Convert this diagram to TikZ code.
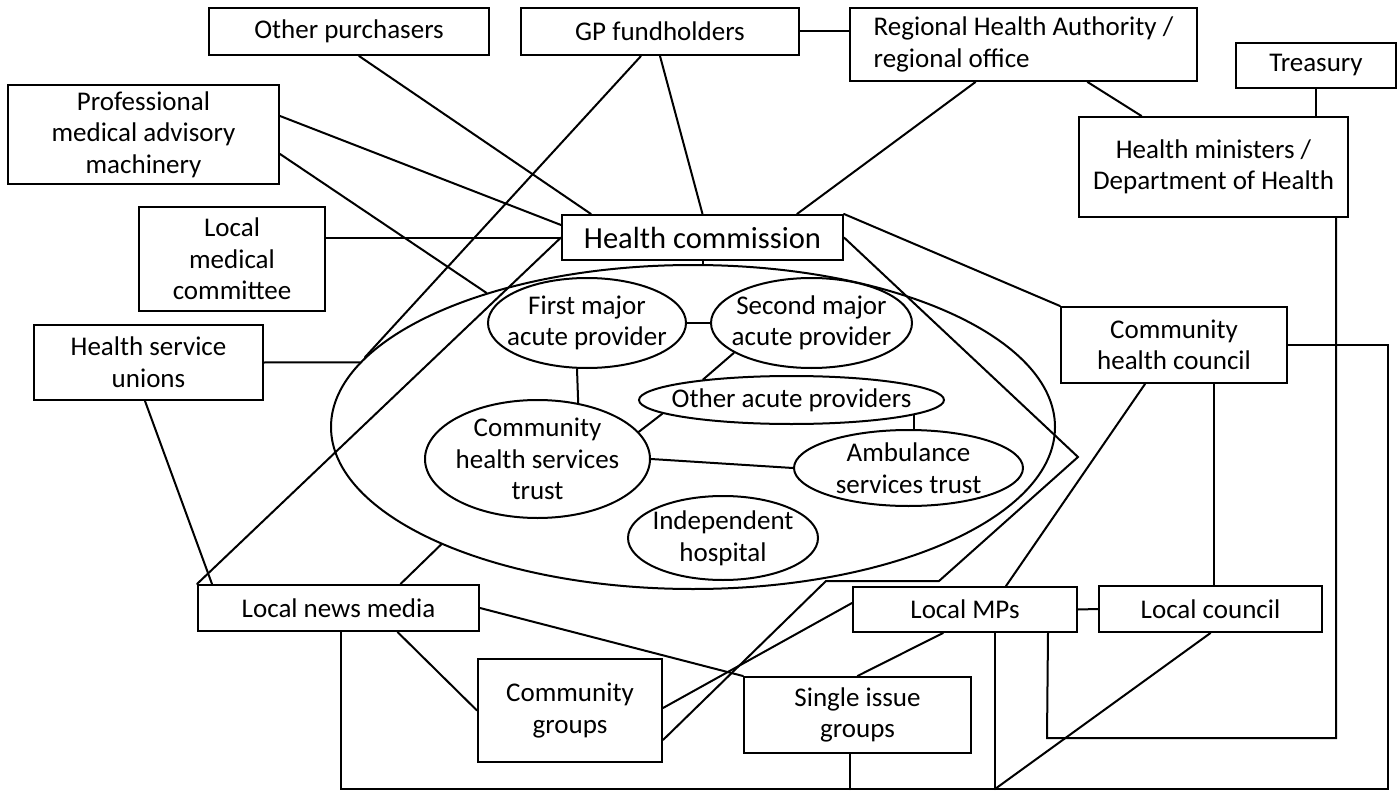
\documentclass[tikz,border=0pt]{standalone}
\usepackage{fontspec}
\setmainfont{Carlito}
\usetikzlibrary{shapes.geometric}

\begin{document}
\begin{tikzpicture}[x=0.5pt,y=-0.5pt,line width=1pt,line cap=round,
  font=\fontsize{13.5}{15.8}\selectfont,
  box/.style={draw,rectangle,align=center,inner sep=0pt},
  oval/.style={draw,ellipse,inner sep=0pt},
  inside/.style={align=center,inner sep=0pt}]
\useasboundingbox (0,0) rectangle (1398,797);
\node[box,minimum width=140pt,minimum height=23.5pt] (op) at (349,31.5) {Other purchasers};
\node[box,minimum width=139pt,minimum height=23.5pt] (gp) at (660,31.5) {GP fundholders};
\node[box,align=left,minimum width=173.5pt,minimum height=36.5pt] (rha) at (1023.5,44.5) {Regional Health Authority /\\regional office};
\node[box,minimum width=80pt,minimum height=22.5pt] (tr) at (1316,65.5) {Treasury};
\node[box,minimum width=134.5pt,minimum height=50pt] (hm) at (1213.5,167) {Health ministers /\\Department of Health};
\node[box,minimum width=135.5pt,minimum height=49.5pt] (pm) at (143.5,134.5) {Professional\\medical advisory\\machinery};
\node[box,font=\fontsize{15.3}{18}\selectfont,minimum width=140.5pt,minimum height=22.5pt] (hc) at (702.5,237.5) {Health commission};
\node[box,minimum width=93pt,minimum height=52pt] (lmc) at (232,259) {Local\\medical\\committee};
\node[box,minimum width=114.5pt,minimum height=37.5pt] (hsu) at (148.5,362.5) {Health service\\unions};
\node[box,minimum width=113pt,minimum height=38pt] (chc) at (1174,345) {Community\\health council};
\node[box,minimum width=140.5pt,minimum height=23pt] (lnm) at (338.5,608) {Local news media};
\node[box,minimum width=112pt,minimum height=22.5pt] (mps) at (965,609.5) {Local MPs};
\node[box,minimum width=111.5pt,minimum height=23pt] (lc) at (1210.5,609) {Local council};
\node[box,minimum width=92pt,minimum height=51.5pt] (cg) at (570,710.5) {Community\\groups};
\node[box,minimum width=113.5pt,minimum height=38pt] (sig) at (857.5,715) {Single issue\\groups};

\node[oval,minimum width=362pt,minimum height=162pt] (grp) at (693,427) {};
\node[oval,minimum width=99pt,minimum height=45pt,label={[inside]center:First major\\acute provider}] (fm) at (587,323) {};
\node[oval,minimum width=100.5pt,minimum height=45pt,label={[inside]center:Second major\\acute provider}] (sm) at (811.5,323) {};
\node[oval,minimum width=152.5pt,minimum height=24pt,label={[inside]center:Other acute providers}] (oap) at (791.5,400) {};
\node[oval,minimum width=112.5pt,minimum height=59pt,label={[inside]center:Community\\health services\\trust}] (chst) at (537.5,459) {};
\node[oval,minimum width=114.5pt,minimum height=38pt,label={[inside]center:Ambulance\\services trust}] (ast) at (908.5,468) {};
\node[oval,minimum width=95pt,minimum height=42pt,label={[inside]center:Independent\\hospital}] (ih) at (723,538) {};

\coordinate (loop) at (1047,738);
\coordinate (bus) at (995,789);

\draw ([xshift=5pt]op.south) -- ([xshift=15pt]hc.north west);
\draw (gp.south) -- (hc.north);
\draw ([xshift=-9.5pt]gp.south) -- (grp.168);
\draw (gp.east) -- (gp.east -| rha.west);
\draw ([xshift=-24pt]rha.south) -- ([xshift=-23.5pt]hc.north east);
\draw ([xshift=32pt]rha.south) -- ([xshift=-36pt]hm.north);
\draw (tr.south) -- (tr.south |- hm.north);
\draw ([yshift=9.25pt]pm.east) -- ([yshift=6.25pt]hc.west);
\draw ([yshift=-9.75pt]pm.east) -- (grp.147);
\draw (hc.west) -- (hc.west -| lmc.east);
\draw (hsu.east) -- (grp.169);
\draw ([xshift=-1.75pt]hsu.south) -- ([xshift=7.5pt]lnm.north west);
\draw (hc.west) -- (lnm.north west);
\draw (hc.south) -- (hc.south |- grp.north);
\draw ([xshift=31pt]lnm.north) -- (grp.205);
\draw ([xshift=29.5pt]lnm.south) -- (cg.west);
\draw (lnm.east) -- (sig.north west);
\draw ([yshift=1.25pt]cg.east) -- ([yshift=3.25pt]mps.west);
\draw ([yshift=-14.75pt]cg.east) -- (826,581) -- (939,581) -- (1078,457) -- (hc.east);
\draw (chc.north west) -- (hc.north east);
\draw ([xshift=-14.5pt]chc.south) -- ([xshift=20.5pt]mps.north);
\draw ([xshift=1.5pt]lc.north) -- ([xshift=1.5pt]lc.north |- chc.south);
\draw (mps.east) -- (lc.west);
\draw ([xshift=-11pt]mps.south) -- (sig.north);
\draw ([xshift=-6.5pt]hm.south east) |- (loop) -- ([xshift=-15pt]mps.south east);
\draw (chc.east) -| (1388,789) -| ([xshift=1.25pt]lnm.south);
\draw ([xshift=-3.75pt]sig.south) -- ([xshift=-3.75pt]sig.south |- bus);
\draw ([xshift=15pt]mps.south) -- (bus);
\draw (lc.south) -- (bus);

\draw (fm.east) -- (sm.west);
\draw ([xshift=-5pt]fm.south) -- (chst.54);
\draw (sm.201) -- (oap.167);
\draw (oap.186) -- (chst.15);
\draw (oap.-7.6) -- (oap.-7.6 |- ast.north);
\draw (chst.east) -- (ast.west);
\end{tikzpicture}
\end{document}
